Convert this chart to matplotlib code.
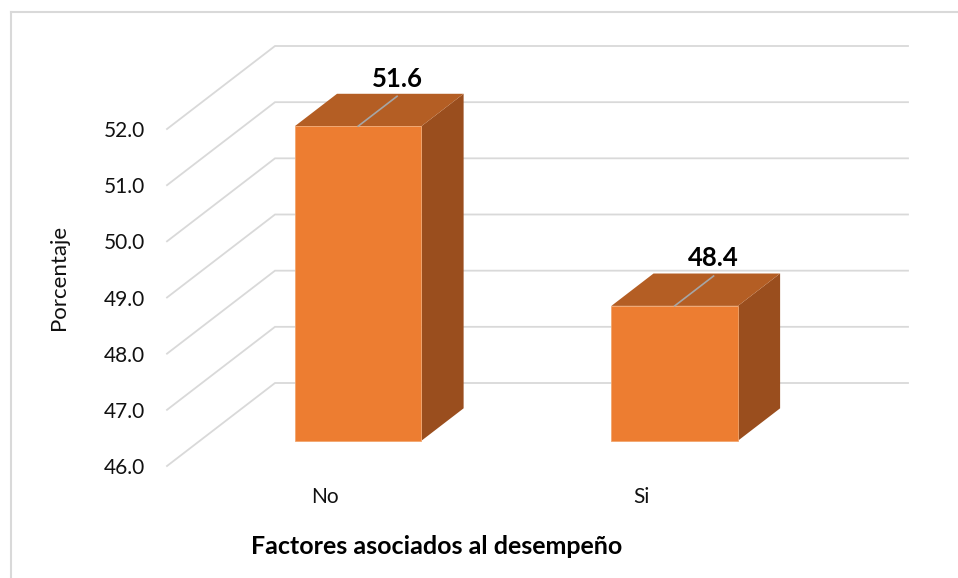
import matplotlib
matplotlib.use("Agg")
import matplotlib.pyplot as plt
from matplotlib.patches import Polygon
from matplotlib.lines import Line2D

plt.rcParams['font.family'] = ['Lato', 'DejaVu Sans']

# Data
categories = ["No", "Si"]
values = [51.6, 48.4]
y_ticks = [46.0, 47.0, 48.0, 49.0, 50.0, 51.0, 52.0]
x_title = "Factores asociados al desempeño"
y_title = "Porcentaje"

W, H = 958, 578
fig = plt.figure(figsize=(W / 100, H / 100), dpi=100)
fig.patch.set_facecolor("white")

# Front plane of the 3D box, in figure pixels
left_px, right_px = 167, 800
top_px, bottom_px = 129, 466
ax = fig.add_axes([left_px / W, 1 - bottom_px / H,
                   (right_px - left_px) / W, (bottom_px - top_px) / H])
ax.set_xlim(0, len(categories))
ax.set_ylim(y_ticks[0], y_ticks[-1])
ax.patch.set_visible(False)
for s in ax.spines.values():
    s.set_visible(False)

# Oblique depth offset (one full depth unit) in data units
DX = 108 / (right_px - left_px) * (ax.get_xlim()[1] - ax.get_xlim()[0])
DY = 83 / (bottom_px - top_px) * (ax.get_ylim()[1] - ax.get_ylim()[0])


def proj(x, v, z):
    return (x + z * DX, v + z * DY)


grid_col = "#d9d9d9"
# Side wall diagonals + back wall gridlines
for v in y_ticks:
    pts = [proj(0, v, 0), proj(0, v, 1), proj(len(categories), v, 1)]
    ax.plot([p[0] for p in pts], [p[1] for p in pts], color=grid_col,
            lw=1.3, zorder=1, clip_on=False, solid_joinstyle="miter")

# 3D bars
base = y_ticks[0]
half_w = 0.2
zf, zb = 0.305, 0.695
front_col, top_col, side_col = "#ED7D31", "#B45E24", "#9A4E1E"
for i, (cat, val) in enumerate(zip(categories, values)):
    c = i + 0.5
    x0, x1 = c - half_w, c + half_w
    side = [proj(x1, base, zf), proj(x1, val, zf), proj(x1, val, zb), proj(x1, base, zb)]
    top = [proj(x0, val, zf), proj(x1, val, zf), proj(x1, val, zb), proj(x0, val, zb)]
    front = [proj(x0, base, zf), proj(x1, base, zf), proj(x1, val, zf), proj(x0, val, zf)]
    ax.add_patch(Polygon(side, closed=True, facecolor=side_col, edgecolor="none",
                         zorder=3, clip_on=False))
    ax.add_patch(Polygon(top, closed=True, facecolor=top_col, edgecolor="none",
                         zorder=3, clip_on=False))
    ax.add_patch(Polygon(front, closed=True, facecolor=front_col, edgecolor="#F2A66E",
                         lw=0.6, zorder=4, clip_on=False))
    # leader line and value label
    p0 = proj(c, val, zf)
    p1 = proj(c, val, zf + 0.36)
    ax.plot([p0[0], p1[0]], [p0[1], p1[1]], color="#a6a6a6", lw=1.2,
            zorder=5, clip_on=False)
    ax.annotate(f"{val:.1f}", xy=p1, xytext=(0, 7), textcoords="offset points",
                ha="center", va="baseline", fontsize=18.5, fontweight="bold",
                color="black", zorder=6, annotation_clip=False)

# Axes ticks
ax.set_yticks(y_ticks)
ax.set_yticklabels([f"{t:.1f}" for t in y_ticks])
ax.set_xticks([i + 0.5 for i in range(len(categories))])
ax.set_xticklabels(categories)
ax.tick_params(axis="y", length=0, pad=16, labelsize=15, labelcolor="#111111")
ax.tick_params(axis="x", length=0, pad=15, labelsize=15, labelcolor="#111111")

# Axis titles
fig.text(59 / W, 1 - 277 / H, y_title, rotation=90, ha="center", va="center",
         fontsize=16, color="#111111")
fig.text(437 / W, 1 - 547 / H, x_title, ha="center", va="center",
         fontsize=18, fontweight="bold", color="black")

# Chart frame
fig.add_artist(Line2D([11 / W, 11 / W], [-0.05, 1 - 12 / H], color=grid_col,
                      lw=1.5, transform=fig.transFigure))
fig.add_artist(Line2D([11 / W, 1.05], [1 - 12 / H, 1 - 12 / H], color=grid_col,
                      lw=1.5, transform=fig.transFigure))

fig.savefig("out.png", dpi=100, facecolor="white")
